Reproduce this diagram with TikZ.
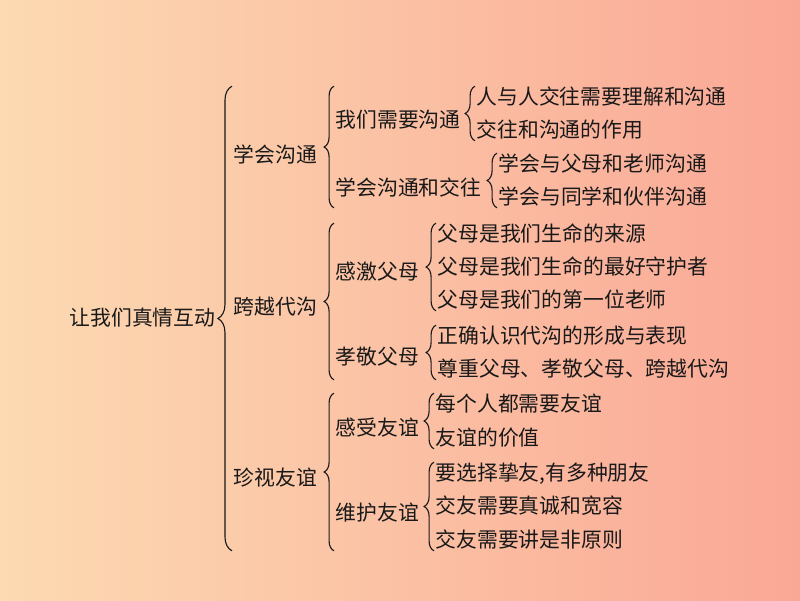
\documentclass[tikz,border=0pt]{standalone}
\usepackage{fontspec}
\setmainfont{Noto Sans CJK SC}
\usetikzlibrary{decorations.pathreplacing}
\definecolor{bgl}{RGB}{252,218,178}
\definecolor{bgr}{RGB}{250,168,150}
\definecolor{ink}{RGB}{25,25,25}
\begin{document}
\begin{tikzpicture}[x=0.025cm,y=0.025cm,
  txt/.style={anchor=west,inner xsep=1pt,inner ysep=0pt,text height=12.5pt,text depth=2.5pt,text=ink,font=\fontsize{14.8}{18}\selectfont},
  brc/.style={decorate,decoration={brace,amplitude=#1},draw=ink,line width=0.8pt},
  brc/.default=7pt]
\shade[left color=bgl,right color=bgr] (0,0) rectangle (800,600);
\useasboundingbox (0,0) rectangle (800,600);
% root and first level
\node[txt] (r) at (68,282) {让我们真情互动};
\node[txt] (a1) at (232,445) {学会沟通};
\node[txt] (a2) at (232,293) {跨越代沟};
\node[txt] (a3) at (232,122) {珍视友谊};
% second level
\node[txt] (b1) at (334,480) {我们需要沟通};
\node[txt] (b2) at (334,412) {学会沟通和交往};
\node[txt] (b3) at (334,328) {感激父母};
\node[txt] (b4) at (334,243) {孝敬父母};
\node[txt] (b5) at (334,172) {感受友谊};
\node[txt] (b6) at (334,87) {维护友谊};
% third level
\node[txt] (c1) at (475,503) {人与人交往需要理解和沟通};
\node[txt] (c2) at (475,470) {交往和沟通的作用};
\node[txt] (c3) at (497,436) {学会与父母和老师沟通};
\node[txt] (c4) at (497,403) {学会与同学和伙伴沟通};
\node[txt] (c5) at (436,366) {父母是我们生命的来源};
\node[txt] (c6) at (436,333) {父母是我们生命的最好守护者};
\node[txt] (c7) at (436,300) {父母是我们的第一位老师};
\node[txt] (c8) at (436,264) {正确认识代沟的形成与表现};
\node[txt] (c9) at (436,231) {尊重父母、孝敬父母、跨越代沟};
\node[txt] (c10) at (434,196) {每个人都需要友谊};
\node[txt] (c11) at (434,162) {友谊的价值};
\node[txt] (c12) at (434,127) {要选择挚友,有多种朋友};
\node[txt] (c13) at (434,94) {交友需要真诚和宽容};
\node[txt] (c14) at (434,60) {交友需要讲是非原则};
% braces
\draw[brc=10pt] (a1.west |- c14.south) -- (a1.west |- c1.north);
\draw[brc] (b1.west |- c4.south) -- (b1.west |- c1.north);
\draw[brc] (b3.west |- c9.south) -- (b3.west |- c5.north);
\draw[brc] (b5.west |- c14.south) -- (b5.west |- c10.north);
\draw[brc] (c2.south west) -- (c1.north west);
\draw[brc] (c4.south west) -- (c3.north west);
\draw[brc] (c7.south west) -- (c5.north west);
\draw[brc] (c9.south west) -- (c8.north west);
\draw[brc] (c11.south west) -- (c10.north west);
\draw[brc] (c14.south west) -- (c12.north west);
\end{tikzpicture}
\end{document}
